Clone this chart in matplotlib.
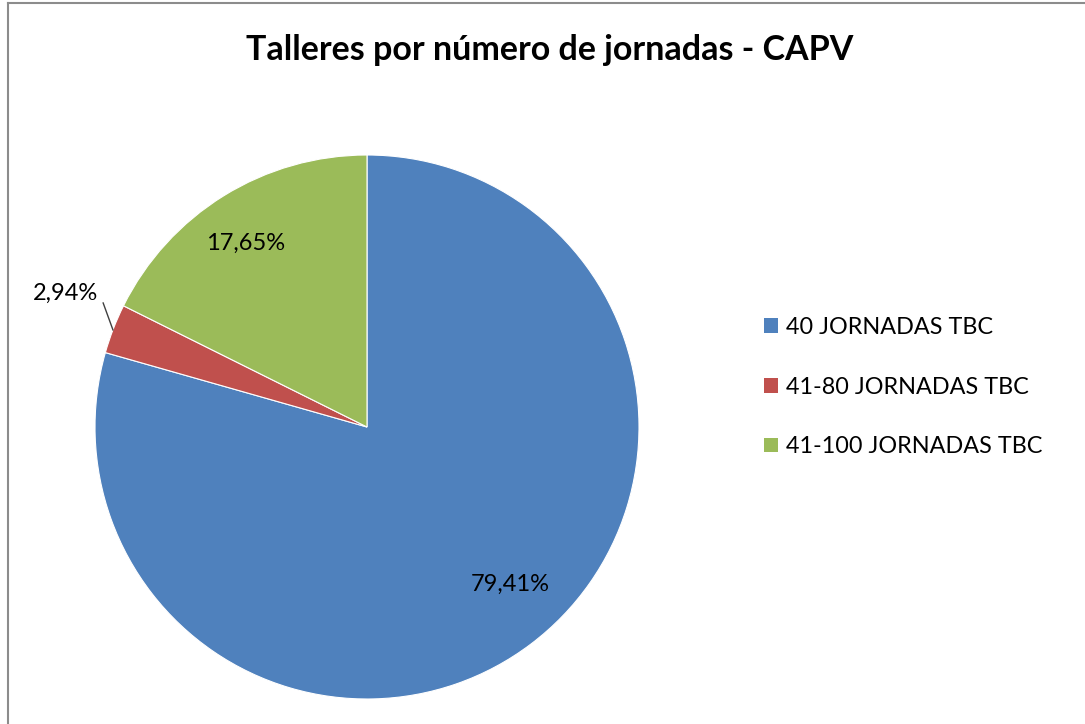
import matplotlib.pyplot as plt
from matplotlib.patches import Patch

categories = ['40 JORNADAS TBC', '41-80 JORNADAS TBC', '41-100 JORNADAS TBC']
shares = [79.41, 2.94, 17.65]
labels = ['79,41%', '2,94%', '17,65%']
colors = ['#4F81BD', '#C0504D', '#9BBB59']

plt.rcParams['font.family'] = ['Lato', 'DejaVu Sans']

W, H = 1085, 724
fig = plt.figure(figsize=(W / 100, H / 100), dpi=100)

# grey frame of the chart area (only top and left visible)
fig.add_artist(plt.Line2D([8 / W, 8 / W], [0, 1 - 3 / H], color='#8c8c8c', lw=1.5))
fig.add_artist(plt.Line2D([8 / W, 1], [1 - 3 / H, 1 - 3 / H], color='#8c8c8c', lw=1.5))

# pie area
cx, cy, r = 367, 427, 272
ax = fig.add_axes([(cx - r) / W, (H - cy - r) / H, 2 * r / W, 2 * r / H])
wedges, _ = ax.pie(shares, colors=colors, startangle=90, counterclock=False,
                   radius=1, wedgeprops=dict(edgecolor='white', linewidth=0.8))
ax.set_xlim(-1, 1)
ax.set_ylim(-1, 1)
ax.set_aspect('equal')
ax.axis('off')

# data labels
ax.text(0.525, -0.58, labels[0], ha='center', va='center', fontsize=17)
ax.text(-0.445, 0.675, labels[2], ha='center', va='center', fontsize=17)
ax.text(-0.99, 0.49, labels[1], ha='right', va='center', fontsize=17)
ax.plot([-0.97, -0.934], [0.456, 0.357], color='#404040', lw=1, clip_on=False)

fig.text(550 / W, 1 - 50 / H, 'Talleres por número de jornadas - CAPV',
         ha='center', va='center', fontsize=24.5, fontweight='bold')

handles = [Patch(facecolor=c, edgecolor='none') for c in colors]
fig.legend(handles, categories, loc='center left', bbox_to_anchor=(764 / W, 1 - 387 / H),
           frameon=False, fontsize=16.8, handlelength=0.6, handleheight=0.6,
           handletextpad=0.35, labelspacing=1.66, borderpad=0, borderaxespad=0)

fig.savefig('out.png', dpi=100)
